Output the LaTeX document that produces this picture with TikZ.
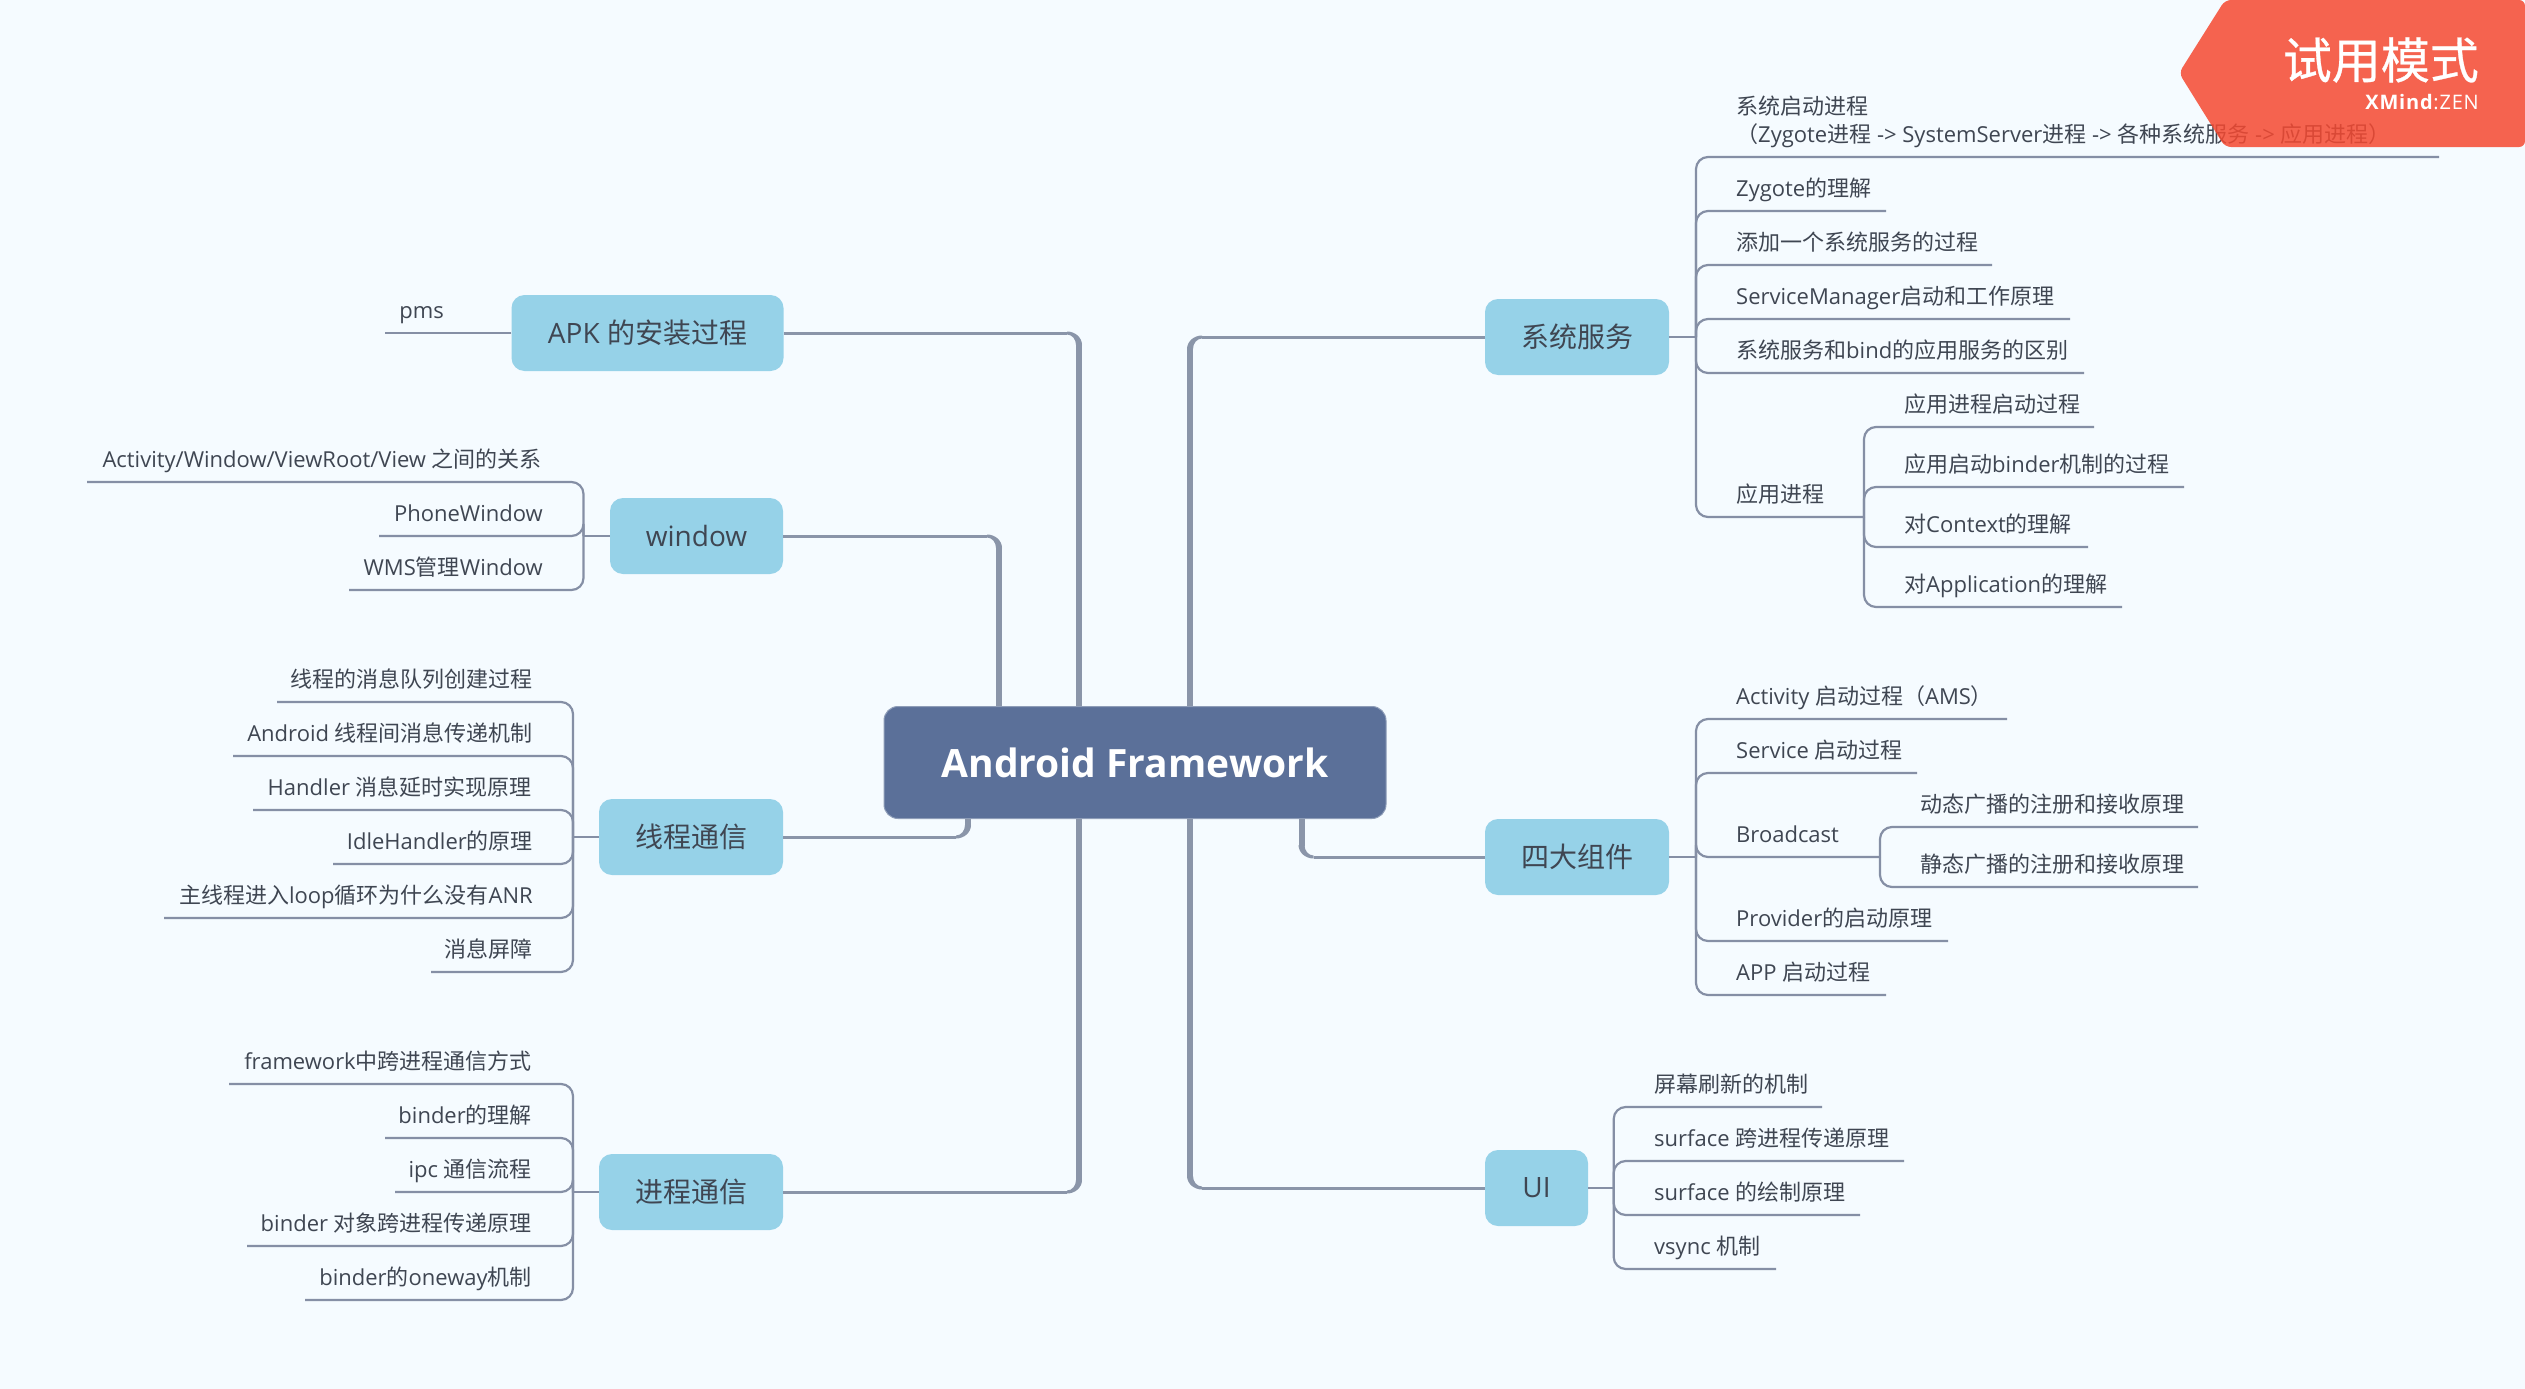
\documentclass[tikz,border=0pt]{standalone}
\usepackage{fontspec}
\setmainfont{Open Sans}
\newfontfamily\cjkfont{Noto Sans CJK SC}
\newfontfamily\cjkmedium[FakeBold=0.6]{Noto Sans CJK SC}
\newfontfamily\tagfont[LetterSpace=4]{Open Sans}
\newcommand\zh[1]{{\cjkfont #1}}
\definecolor{bgc}{HTML}{F5FBFF}
\definecolor{branchc}{HTML}{8A95A9}
\definecolor{subc}{HTML}{858FA5}
\definecolor{topicc}{HTML}{96D2E8}
\definecolor{rootc}{HTML}{5B7099}
\definecolor{rootb}{HTML}{8E9DB8}
\definecolor{txtc}{HTML}{3F4652}
\definecolor{badgec}{HTML}{F54931}
\tikzset{
  x=1pt,y=-1pt,
  leaf/.style={inner sep=0pt,text=txtc,font=\fontsize{22}{28}\selectfont},
  topic/.style={rectangle,rounded corners=13pt,fill=topicc,inner sep=0pt,minimum height=76pt,text=txtc,font=\fontsize{28}{34}\selectfont},
  root/.style={rectangle,rounded corners=14pt,fill=rootc,draw=rootb,line width=1pt,inner sep=0pt,minimum width=502pt,minimum height=112pt,text=white,font=\fontsize{39}{46}\selectfont\bfseries},
  subline/.style={draw=subc,line width=2.2pt,rounded corners=12pt},
  stemline/.style={draw=subc,line width=2.2pt},
  hbranch/.style={draw=branchc,line width=3pt},
  vbranch/.style={draw=branchc,line width=6pt},
}
% spine, name, text x, rule y, rule end x, text
\newcommand\leafR[6]{%
  \node[leaf,anchor=base west] (#2) at (#3,#4-15) {#6};
  \coordinate (#2e) at (#5,#4);
  \draw[subline] (#1) |- (#2e);}
\newcommand\leafL[6]{%
  \node[leaf,anchor=base east] (#2) at (#3,#4-15) {#6};
  \coordinate (#2e) at (#5,#4);
  \draw[subline] (#1) |- (#2e);}
% name, start anchor, corner x, h, v, end anchor
\newcommand\mainb[6]{%
  \coordinate (#1x) at (#3,0);
  \coordinate (#1) at (#2 -| #1x);
  \draw[hbranch] (#2) -- ($(#1)+({-12*#4},0)$);
  \draw[vbranch] ($(#1)+(0,{11*#5})$) -- (#1 |- #6);
  \begin{scope}[shift={(#1)},xscale=#4,yscale=#5]
    \fill[branchc] (-12,-1.5) .. controls (-3.75,-1.5) and (3,4.6) .. (3,12)
      -- (-3,12) .. controls (-3,6.2) and (-7,1.5) .. (-12,1.5) -- cycle;
  \end{scope}}
\usetikzlibrary{calc}
\begin{document}
\begin{tikzpicture}
\useasboundingbox (0,0) rectangle (2525,1389);
\fill[bgc] (0,0) rectangle (2525,1389);

% main nodes
\node[root] (root) at (1135,762.5) {Android Framework};
\node[topic,minimum width=272pt] (apk) at (647.5,333) {APK \zh{的安装过程}};
\node[topic,minimum width=173pt] (win) at (696.5,536) {window};
\node[topic,minimum width=184pt] (thr) at (691,837) {\zh{线程通信}};
\node[topic,minimum width=184pt] (ipc) at (691,1192) {\zh{进程通信}};
\node[topic,minimum width=184pt] (sys) at (1577,337) {\zh{系统服务}};
\node[topic,minimum width=184pt] (four) at (1577,857) {\zh{四大组件}};
\node[topic,minimum width=103pt] (ui) at (1536.5,1188) {UI};

% main branches
\mainb{bA}{apk.east}{1079}{1}{1}{root.north}
\mainb{bB}{win.east}{999}{1}{1}{root.north}
\mainb{bC}{thr.east}{968}{1}{-1}{root.south}
\mainb{bD}{ipc.east}{1079}{1}{-1}{root.south}
\mainb{bE}{sys.west}{1190}{-1}{1}{root.north}
\mainb{bF}{four.west}{1301.5}{-1}{-1}{root.south}
\mainb{bG}{ui.west}{1190}{-1}{-1}{root.south}

% APK
\node[leaf,anchor=base east] (pms) at (444,318) {pms};
\coordinate (pmse) at (385,333);
\draw[stemline] (apk.west) -- (pmse);

% window
\coordinate (spW) at (583.5,536);
\draw[stemline] (win.west) -- (spW);
\leafL{spW}{w1}{542}{482}{87}{Activity/Window/ViewRoot/View \zh{之间的关系}}
\leafL{spW}{w2}{543}{536}{379}{PhoneWindow}
\leafL{spW}{w3}{543}{590}{349}{WMS\zh{管理}Window}

% thread
\coordinate (spT) at (573,837);
\draw[stemline] (thr.west) -- (spT);
\leafL{spT}{t1}{533}{702}{277}{\zh{线程的消息队列创建过程}}
\leafL{spT}{t2}{533}{756}{233}{Android \zh{线程间消息传递机制}}
\leafL{spT}{t3}{532}{810}{253}{Handler \zh{消息延时实现原理}}
\leafL{spT}{t4}{533}{864}{333}{IdleHandler\zh{的原理}}
\leafL{spT}{t5}{533}{918}{164}{\zh{主线程进入}loop\zh{循环为什么没有}ANR}
\leafL{spT}{t6}{533}{972}{431}{\zh{消息屏障}}

% ipc
\coordinate (spI) at (573,1192);
\draw[stemline] (ipc.west) -- (spI);
\leafL{spI}{i1}{532}{1084}{229}{framework\zh{中跨进程通信方式}}
\leafL{spI}{i2}{532}{1138}{385}{binder\zh{的理解}}
\leafL{spI}{i3}{532}{1192}{395}{ipc \zh{通信流程}}
\leafL{spI}{i4}{532}{1246}{247}{binder \zh{对象跨进程传递原理}}
\leafL{spI}{i5}{532}{1300}{305}{binder\zh{的}oneway\zh{机制}}

% system services
\coordinate (spS) at (1696,337);
\draw[stemline] (sys.east) -- (spS);
\node[leaf,anchor=south west,align=left,text depth=7pt] (s1) at (1736,150) {\zh{系统启动进程}\\\zh{（}Zygote\zh{进程} -> SystemServer\zh{进程} -> \zh{各种系统服务} -> \zh{应用进程）}};
\coordinate (s1e) at (2439,157);
\draw[subline] (spS) |- (s1e);
\leafR{spS}{s2}{1736}{211}{1886}{Zygote\zh{的理解}}
\leafR{spS}{s3}{1736}{265}{1992}{\zh{添加一个系统服务的过程}}
\leafR{spS}{s4}{1736}{319}{2070}{ServiceManager\zh{启动和工作原理}}
\leafR{spS}{s5}{1736}{373}{2084}{\zh{系统服务和}bind\zh{的应用服务的区别}}
\leafR{spS}{s6}{1736}{517}{1864}{\zh{应用进程}}
\leafR{s6e}{a1}{1904}{427}{2094}{\zh{应用进程启动过程}}
\leafR{s6e}{a2}{1904}{487}{2184}{\zh{应用启动}binder\zh{机制的过程}}
\leafR{s6e}{a3}{1904}{547}{2088}{\zh{对}Context\zh{的理解}}
\leafR{s6e}{a4}{1904}{607}{2122}{\zh{对}Application\zh{的理解}}

% four components
\coordinate (spF) at (1696,857);
\draw[stemline] (four.east) -- (spF);
\leafR{spF}{f1}{1736}{719}{2007}{Activity \zh{启动过程（}AMS\zh{）}}
\leafR{spF}{f2}{1736}{773}{1917}{Service \zh{启动过程}}
\leafR{spF}{f3}{1736}{857}{1880}{Broadcast}
\leafR{spF}{f4}{1736}{941}{1948}{Provider\zh{的启动原理}}
\leafR{spF}{f5}{1736}{995}{1886}{APP \zh{启动过程}}
\leafR{f3e}{b1}{1920}{827}{2198}{\zh{动态广播的注册和接收原理}}
\leafR{f3e}{b2}{1920}{887}{2198}{\zh{静态广播的注册和接收原理}}

% UI
\coordinate (spU) at (1613.7,1188);
\draw[stemline] (ui.east) -- (spU);
\leafR{spU}{u1}{1654}{1107}{1822}{\zh{屏幕刷新的机制}}
\leafR{spU}{u2}{1654}{1161}{1904}{surface \zh{跨进程传递原理}}
\leafR{spU}{u3}{1654}{1215}{1860}{surface \zh{的绘制原理}}
\leafR{spU}{u4}{1654}{1269}{1776}{vsync \zh{机制}}

% trial badge
\fill[badgec,fill opacity=0.85,rounded corners=6pt] (2225,0) -- (2525,0) -- (2525,147) -- (2225,147) -- (2179,73) -- cycle;
\node[anchor=east,inner sep=0pt,text=white,font=\fontsize{49}{56}\selectfont\cjkmedium] (badgeA) at (2479,60) {试用模式};
\node[anchor=east,inner sep=0pt,text=white,font=\fontsize{20}{24}\selectfont\tagfont] (badgeB) at (2479,102) {\textbf{XMind}:ZEN};
\end{tikzpicture}
\end{document}
